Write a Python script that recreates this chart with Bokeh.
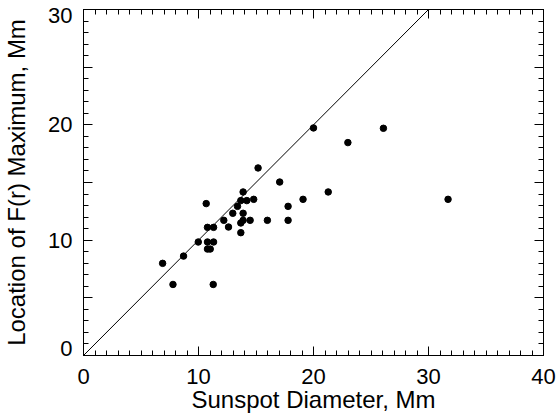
from bokeh.plotting import figure
from bokeh.models import (LinearAxis, FixedTicker, Range1d, Slope,
                          CustomLabelingPolicy)
from bokeh.embed import file_html
from bokeh.resources import INLINE

# Sunspot diameter (Mm) and location of F(r) maximum (Mm)
diameter = [6.88, 7.78, 8.70, 9.98, 10.67, 10.78, 11.31, 10.78, 11.31, 10.78,
            11.02, 11.28, 12.20, 12.61, 12.98, 13.39, 13.88, 13.68, 14.20, 14.80,
            13.88, 13.88, 13.68, 14.49, 15.99, 17.79, 17.79, 13.68, 15.18, 17.06,
            19.09, 20.00, 21.28, 22.99, 26.08, 31.70]
location = [7.99, 6.16, 8.62, 9.84, 13.17, 11.11, 11.11, 9.84, 9.84, 9.23,
            9.23, 6.16, 11.72, 11.14, 12.33, 12.93, 12.33, 13.43, 13.43, 13.54,
            14.18, 11.72, 11.49, 11.72, 11.72, 11.72, 12.93, 10.65, 16.26, 15.04,
            13.54, 19.73, 14.18, 18.46, 19.70, 13.54]

x_ticks = [0, 10, 20, 30, 40]
x_minor = list(range(0, 41))
y_ticks = [0, 5, 10, 15, 20, 25, 30]
y_minor = list(range(0, 31))
# y tick labels (the end labels sit slightly inside the frame, as in the original)
y_label_pos = [0.65, 10, 20, 29.5]
y_label_txt = ["0", "10", "20", "30"]

FONT = "Liberation Sans"

p = figure(width=557, height=420, output_backend="svg", toolbar_location=None,
           x_range=Range1d(0, 40), y_range=Range1d(0, 30),
           min_border_left=82, min_border_right=14, min_border_top=9,
           min_border_bottom=65)
p.grid.visible = False
p.outline_line_color = "black"
p.background_fill_color = "white"
p.border_fill_color = "white"

def ticks_only(ax, ticker):
    ax.ticker = ticker
    ax.axis_line_color = "black"
    ax.axis_line_width = 1
    ax.major_tick_in = 9
    ax.major_tick_out = 0
    ax.minor_tick_in = 5
    ax.minor_tick_out = 0
    ax.major_tick_line_color = "black"
    ax.minor_tick_line_color = "black"
    ax.major_label_policy = CustomLabelingPolicy(code="return new Set()")
    ax.major_label_text_font_size = "1px"
    ax.major_label_standoff = 0
    ax.axis_label = None

def text_style(ax):
    ax.major_label_text_font = FONT
    ax.major_label_text_font_size = "22px"
    ax.major_label_text_color = "black"
    ax.axis_label_text_font = FONT
    ax.axis_label_text_font_size = "24px"
    ax.axis_label_text_font_style = "normal"
    ax.axis_label_text_color = "black"

# bottom axis: ticks + labels
xa = p.xaxis[0]
xa.ticker = FixedTicker(ticks=x_ticks, minor_ticks=x_minor)
xa.axis_line_color = "black"
xa.major_tick_in = 9
xa.major_tick_out = 0
xa.minor_tick_in = 5
xa.minor_tick_out = 0
xa.major_tick_line_color = "black"
xa.minor_tick_line_color = "black"
text_style(xa)
xa.axis_label = "Sunspot Diameter, Mm"
xa.major_label_standoff = 13
xa.axis_label_standoff = -1

# left axis: tick marks only (nearest the frame)
ticks_only(p.yaxis[0], FixedTicker(ticks=y_ticks, minor_ticks=y_minor))

# second left axis: labels and title only
yl = LinearAxis()
yl.ticker = FixedTicker(ticks=y_label_pos, minor_ticks=[])
yl.major_label_overrides = dict(zip(y_label_pos, y_label_txt))
yl.axis_line_color = None
yl.major_tick_line_color = None
yl.minor_tick_line_color = None
yl.major_tick_in = 0
yl.major_tick_out = 0
yl.minor_tick_in = 0
yl.minor_tick_out = 0
text_style(yl)
yl.axis_label = "Location of F(r) Maximum, Mm"
yl.major_label_standoff = 7
yl.axis_label_standoff = 15
p.add_layout(yl, "left")

top = LinearAxis()
ticks_only(top, FixedTicker(ticks=x_ticks, minor_ticks=x_minor))
p.add_layout(top, "above")
right = LinearAxis()
ticks_only(right, FixedTicker(ticks=y_ticks, minor_ticks=y_minor))
p.add_layout(right, "right")

p.add_layout(Slope(gradient=1, y_intercept=0, line_color="black", line_width=1))
p.scatter(diameter, location, size=6.5, color="black")

open("out.html", "w").write(file_html(p, INLINE))
